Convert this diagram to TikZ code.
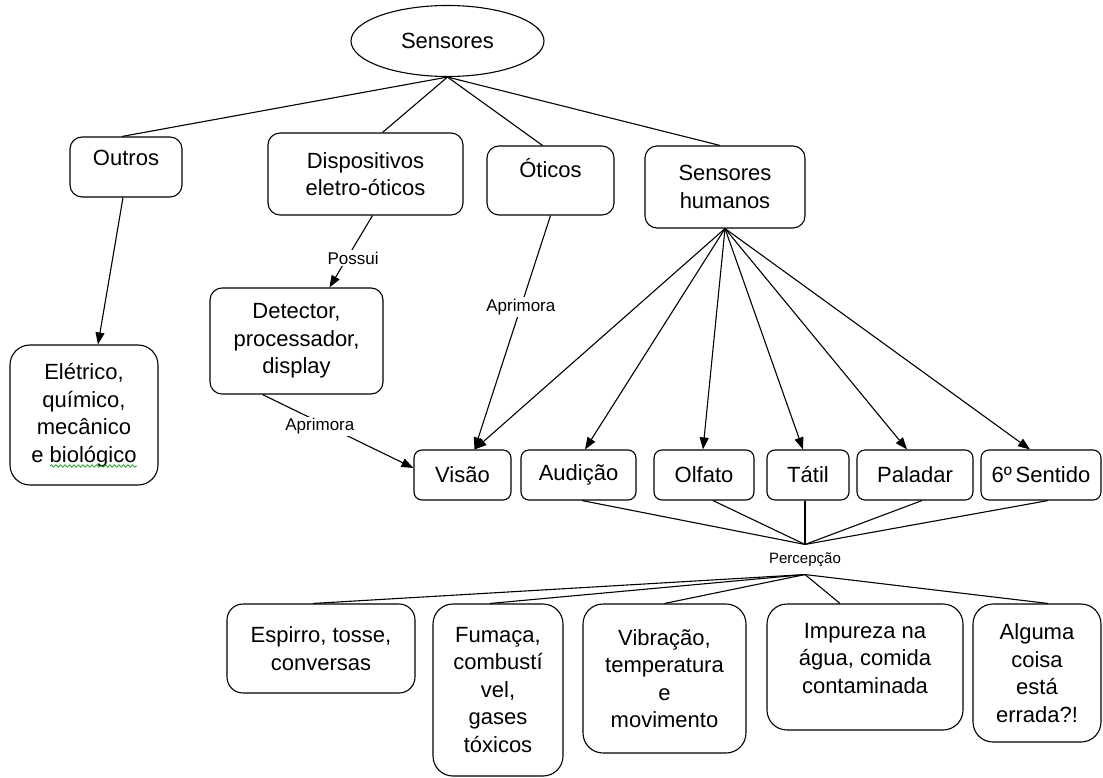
\documentclass[tikz,border=0pt]{standalone}
\usepackage{fontspec}
\setmainfont{Liberation Sans}
\usetikzlibrary{arrows.meta,shapes.geometric,decorations.pathmorphing}

\begin{document}
\begin{tikzpicture}[x=1pt,y=-1pt,line width=1.1pt,
    >={Triangle[length=12pt,width=9pt]},
    main/.style = {draw, rounded corners=12pt, align=center, inner sep=0pt,
        font=\fontsize{22}{27.5}\selectfont},
    big/.style = {main, rounded corners=20pt},
    lbl/.style = {fill=white, inner sep=2pt, font=\fontsize{17}{20}\selectfont}]
      \useasboundingbox (0,0) rectangle (1103,778);

      \node[draw, ellipse, inner sep=0pt, minimum width=193pt, minimum height=71pt,
        font=\fontsize{22}{27.5}\selectfont] at (447.5,41) (1) {Sensores};

      \node[main, minimum width=112pt, minimum height=60pt] at (126,167) (2) {Outros\\[-9pt]\mbox{}};
      \node[main, minimum width=195pt, minimum height=82pt] at (365.5,174) (3) {Dispositivos\\eletro-óticos};
      \node[main, minimum width=127pt, minimum height=69pt] at (550.5,180.5) (4) {Óticos\\[-2pt]\mbox{}};
      \node[main, minimum width=160pt, minimum height=82pt] at (725,187) (5) {Sensores\\humanos};

      \node[main, minimum width=173pt, minimum height=106pt] at (296.5,341) (6) {Detector,\\processador,\\display};
      \node[big, minimum width=148pt, minimum height=140pt] at (84,415) (7) {Elétrico,\\químico,\\mecânico\\e biológico};

      \node[main, rounded corners=8pt, minimum width=97pt, minimum height=50pt] at (462.5,475) (8) {Visão};
      \node[main, rounded corners=8pt, minimum width=115pt, minimum height=50pt] at (578.5,475) (9) {Audição};
      \node[main, rounded corners=8pt, minimum width=100pt, minimum height=50pt] at (704,475) (10) {Olfato};
      \node[main, rounded corners=8pt, minimum width=82pt, minimum height=50pt] at (808,475) (11) {Tátil};
      \node[main, rounded corners=8pt, minimum width=116pt, minimum height=50pt] at (915,475) (12) {Paladar};
      \node[main, rounded corners=8pt, minimum width=120pt, minimum height=50pt] at (1041,475) (13) {6º\,Sentido};

      \node[inner sep=0pt, minimum height=29pt, font=\fontsize{15}{18}\selectfont] at (805,559.5) (p) {Percepção};

      \node[main, rounded corners=16pt, minimum width=188pt, minimum height=89pt] at (321,648.5) (14) {Espirro, tosse,\\conversas};
      \node[big, minimum width=130pt, minimum height=172pt] at (498,690) (15) {Fumaça,\\combustí\\vel,\\gases\\tóxicos};
      \node[big, minimum width=163pt, minimum height=149pt] at (664.5,678.5) (16) {Vibração,\\temperatura\\e\\movimento};
      \node[big, minimum width=196pt, minimum height=126pt] at (865,667) (17) {Impureza na\\água, comida\\contaminada\\[-10pt]\mbox{}};
      \node[big, minimum width=128pt, minimum height=138pt] at (1037,673) (18) {Alguma\\coisa\\está\\errada?!};

      \draw[green!60!black, line width=0.7pt, decorate,
        decoration={snake, amplitude=1.2pt, segment length=4.5pt}] (50,466) -- (137,466);

      \path
      (1.south) edge ([xshift=-4pt]2.north)
      (1.south) edge ([xshift=17pt]3.north)
      (1.south) edge ([xshift=-8pt]4.north)
      (1.south) edge ([xshift=-5pt]5.north)

      ([xshift=-3pt]2.south) edge[->] ([xshift=14pt]7.north)
      ([xshift=7pt]3.south) edge[->] node[lbl, pos=0.59, xshift=6pt] {Possui} ([xshift=33pt]6.north)
      (4.south) edge[->] node[lbl, pos=0.39] {Aprimora} ([xshift=12pt]8.north)
      ([xshift=-34pt]6.south) edge[->] node[lbl, pos=0.38, yshift=-4pt] {Aprimora} ([yshift=7pt]8.west)

      (5.south) edge[->] ([xshift=12pt]8.north)
      (5.south) edge[->] ([xshift=6.5pt]9.north)
      (5.south) edge[->] ([xshift=-1pt]10.north)
      (5.south) edge[->] ([xshift=-5pt]11.north)
      (5.south) edge[->] ([xshift=-8pt]12.north)
      (5.south) edge[->] ([xshift=-11pt]13.north)

      ([xshift=3.5pt]9.south) edge (p.north)
      ([xshift=9pt]10.south) edge (p.north)
      ([xshift=-3pt]11.south) edge (p.north)
      ([xshift=7pt]12.south) edge (p.north)
      ([xshift=7pt]13.south) edge (p.north)

      (p.south) edge ([xshift=-8pt]14.north)
      (p.south) edge ([xshift=-8pt]15.north)
      (p.south) edge (16.north)
      (p.south) edge ([xshift=-25pt]17.north)
      (p.south) edge ([xshift=11pt]18.north)
      ;

    \end{tikzpicture}
\end{document}
